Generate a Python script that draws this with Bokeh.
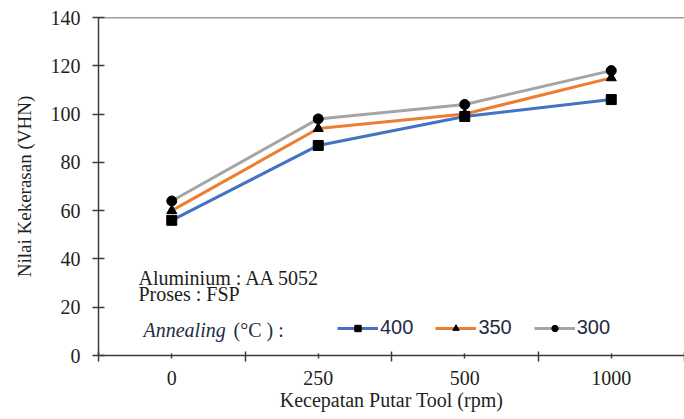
from bokeh.plotting import figure
from bokeh.models import Range1d, FixedTicker, Span, Label, Legend, LegendItem
from bokeh.embed import file_html
from bokeh.resources import INLINE

# ---- data ----
rpm_labels = ["0", "250", "500", "1000"]
hv_400 = [56, 87, 99, 106]
hv_350 = [60, 94, 100, 115]
hv_300 = [64, 98, 104, 118]
series_names = ["400", "350", "300"]
y_ticks = [0, 20, 40, 60, 80, 100, 120, 140]

x = list(range(len(rpm_labels)))
series = [hv_400, hv_350, hv_300]
colors = ["#4472C4", "#ED7D31", "#A5A5A5"]
markers = ["square", "triangle", "circle"]
msizes = [10, 10, 10]

AX = "#3c3c3c"
TXT = "#231f1b"
SERIF = "Liberation Serif"

p = figure(width=684, height=419, output_backend="svg", toolbar_location=None,
           x_range=Range1d(-0.5, len(rpm_labels) - 0.5),
           y_range=Range1d(y_ticks[0], y_ticks[-1]),
           min_border_left=98, min_border_right=0, min_border_top=17,
           min_border_bottom=64)
p.outline_line_color = None
p.grid.visible = False
p.background_fill_color = "white"
p.border_fill_color = "white"

xa = p.xaxis[0]
xa.ticker = FixedTicker(ticks=x, minor_ticks=[i - 0.5 for i in range(len(x) + 1)])
xa.major_label_overrides = {i: lab for i, lab in enumerate(rpm_labels)}
xa.major_tick_in = 2
xa.major_tick_out = 3
xa.minor_tick_in = 4
xa.minor_tick_out = 6
xa.major_label_standoff = 9
xa.axis_label = "Kecepatan Putar Tool (rpm)"
xa.axis_label_standoff = 1

ya = p.yaxis[0]
ya.ticker = FixedTicker(ticks=y_ticks)
ya.minor_tick_line_color = None
ya.major_tick_in = 6
ya.major_tick_out = 6
ya.major_label_standoff = 12
ya.axis_label = "Nilai Kekerasan (VHN)"
ya.axis_label_standoff = 13

for ax, lsize in ((xa, "20px"), (ya, "19px")):
    ax.axis_line_color = AX
    ax.axis_line_width = 1.5
    ax.major_tick_line_color = AX
    ax.major_tick_line_width = 1.5
    ax.minor_tick_line_color = AX if ax is xa else None
    ax.minor_tick_line_width = 1.5
    ax.major_label_text_font = SERIF
    ax.major_label_text_font_size = "20px"
    ax.major_label_text_color = TXT
    ax.axis_label_text_font = SERIF
    ax.axis_label_text_font_size = lsize
    ax.axis_label_text_font_style = "normal"
    ax.axis_label_text_color = TXT

p.add_layout(Span(location=y_ticks[-1], dimension="width", line_color=AX, line_width=1.5))

line_rs = []
for ys, c in zip(series, colors):
    line_rs.append(p.line(x, ys, line_color=c, line_width=3))
items = []
for name, ys, m, s, lr in zip(series_names, series, markers, msizes, line_rs):
    sr = p.scatter(x, ys, marker=m, size=s, fill_color="black", line_color="black")
    items.append(LegendItem(label=name, renderers=[lr, sr]))

leg = Legend(items=items, orientation="horizontal", location=(239, 16),
             glyph_width=41, glyph_height=16, label_height=16, label_standoff=2,
             spacing=22, padding=0, margin=0, border_line_color=None,
             background_fill_alpha=0, label_text_font="Liberation Sans",
             label_text_font_size="20px", label_text_color="#1f2b45")
p.add_layout(leg)

def make_text(xv, yv, text, style="normal", size="20px", color=TXT, align="left",
              x_offset=0, y_offset=0):
    return Label(x=xv, y=yv, text=text, text_font=SERIF, text_font_size=size,
                 text_font_style=style, text_color=color, text_align=align,
                 text_baseline="alphabetic", x_offset=x_offset, y_offset=y_offset)

p.add_layout(make_text(-0.227, 32.3, "Aluminium : AA 5052", color="#1c1c1c"))
p.add_layout(make_text(-0.227, 25.5, "Proses : FSP", color="#1c1c1c"))
p.add_layout(make_text(-0.193, 10.4, "Annealing", style="italic", color="#1f2b45"))
p.add_layout(make_text(-0.193, 10.4, "(°C ) :", color="#1f2b45", x_offset=90))

open("out.html", "w").write(file_html(p, INLINE))
